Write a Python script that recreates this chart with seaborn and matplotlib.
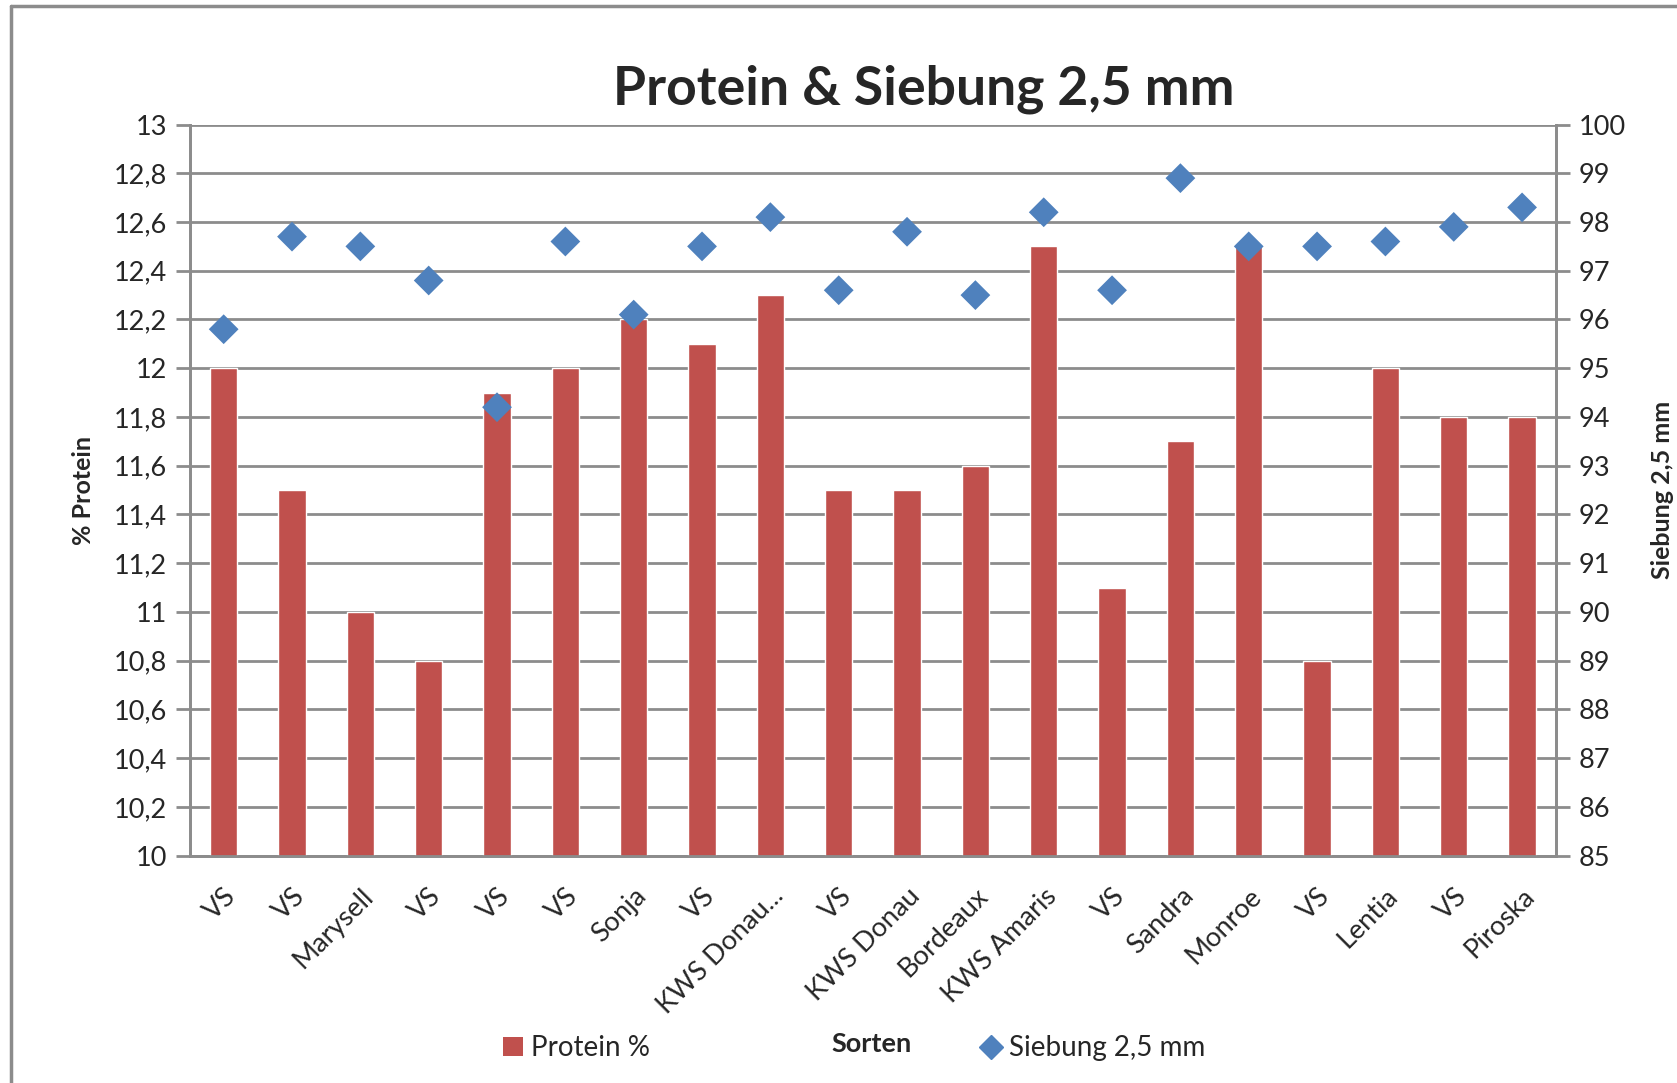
import numpy as np
import pandas as pd
import matplotlib
matplotlib.use("Agg")
import matplotlib.pyplot as plt
from matplotlib.lines import Line2D
from matplotlib.patches import Patch
from matplotlib.ticker import FixedLocator
import seaborn as sns

# Daten
sorten = ["VS", "VS", "Marysell", "VS", "VS", "VS", "Sonja", "VS", "KWS Donau...",
          "VS", "KWS Donau", "Bordeaux", "KWS Amaris", "VS", "Sandra", "Monroe",
          "VS", "Lentia", "VS", "Piroska"]
protein = [12.0, 11.5, 11.0, 10.8, 11.9, 12.0, 12.2, 12.1, 12.3, 11.5,
           11.5, 11.6, 12.5, 11.1, 11.7, 12.5, 10.8, 12.0, 11.8, 11.8]
siebung = [95.8, 97.7, 97.5, 96.8, 94.2, 97.6, 96.1, 97.5, 98.1, 96.6,
           97.8, 96.5, 98.2, 96.6, 98.9, 97.5, 97.5, 97.6, 97.9, 98.3]

df = pd.DataFrame({"pos": range(len(sorten)), "sorte": sorten,
                   "protein": protein, "siebung": siebung})

sns.set_theme(style="white")
plt.rcParams["font.family"] = ["Lato", "DejaVu Sans"]

bar_col = "#C0504D"
dot_col = "#4F81BD"
grid_col = "#8C8C8C"

fig = plt.figure(figsize=(16.77, 10.83), dpi=100)
ax = fig.add_axes([0.113, 0.21, 0.815, 0.675])

sns.barplot(data=df, x="pos", y="protein", color=bar_col, width=0.4,
            saturation=1, ax=ax, zorder=3)
ax.set_ylim(10, 13)
ax.set_xlim(-0.5, len(sorten) - 0.5)

yt = np.round(np.arange(10, 13.01, 0.2), 1)
ax.yaxis.set_major_locator(FixedLocator(yt))
ax.set_yticklabels([("%g" % v).replace(".", ",") for v in yt])
ax.yaxis.grid(True, color=grid_col, lw=2, zorder=0)
ax.set_axisbelow(True)

ax2 = ax.twinx()
sns.scatterplot(data=df, x="pos", y="siebung", marker="D", s=230,
                color=dot_col, edgecolor="none", ax=ax2, zorder=4)
ax2.set_ylim(85, 100)
ax2.set_yticks(range(85, 101))
ax2.set_xlim(-0.5, len(sorten) - 0.5)

ax.set_xticks(range(len(sorten)))
ax.set_xticklabels(sorten, rotation=45, ha="right", va="top",
                   rotation_mode="anchor", fontsize=19.5)
ax.set_xticks(np.arange(-0.5, len(sorten)), minor=True)
ax.tick_params(axis="x", which="major", length=0, pad=20)
ax.tick_params(axis="x", which="minor", length=10, width=2, color=grid_col, direction="out")
ax.tick_params(axis="y", length=10, width=2, color=grid_col, direction="out",
               labelsize=19.5, pad=6, left=True)
ax2.tick_params(axis="y", length=10, width=2, color=grid_col, direction="out",
                labelsize=19.5, pad=6, right=True)

for a in (ax, ax2):
    a.spines["top"].set_visible(False)
    for side in ("left", "right", "bottom"):
        a.spines[side].set_color(grid_col)
        a.spines[side].set_linewidth(2)

ax.set_xlabel("")
ax.set_ylabel("% Protein", fontsize=18, fontweight="bold", labelpad=14)
ax2.set_ylabel("Siebung 2,5 mm", fontsize=18, fontweight="bold", labelpad=18)

fig.text(0.551, 0.918, "Protein & Siebung 2,5 mm", ha="center", va="center",
         fontsize=38.5, fontweight="bold")
fig.text(0.52, 0.036, "Sorten", ha="center", va="center",
         fontsize=19.5, fontweight="bold")

h1 = Patch(facecolor=bar_col, edgecolor="none")
h2 = Line2D([], [], marker="D", ls="none", color=dot_col, markersize=12)
fig.legend([h1], ["Protein %"], loc="center left", bbox_to_anchor=(0.3, 0.032),
           frameon=False, fontsize=20, handlelength=0.7, handletextpad=0.3,
           borderpad=0, borderaxespad=0)
fig.legend([h2], ["Siebung 2,5 mm"], loc="center left", bbox_to_anchor=(0.585, 0.032),
           frameon=False, fontsize=20, handlelength=0.7, handletextpad=0.3,
           borderpad=0, borderaxespad=0)

# Rahmen um das Diagramm
fig.add_artist(Line2D([0.0066, 0.0066], [0.0, 0.9945], color="#8C8C8C", lw=2.5,
                      transform=fig.transFigure))
fig.add_artist(Line2D([0.0066, 1.0], [0.9945, 0.9945], color="#8C8C8C", lw=2.5,
                      transform=fig.transFigure))

fig.savefig("out.png", dpi=100, facecolor="white")
